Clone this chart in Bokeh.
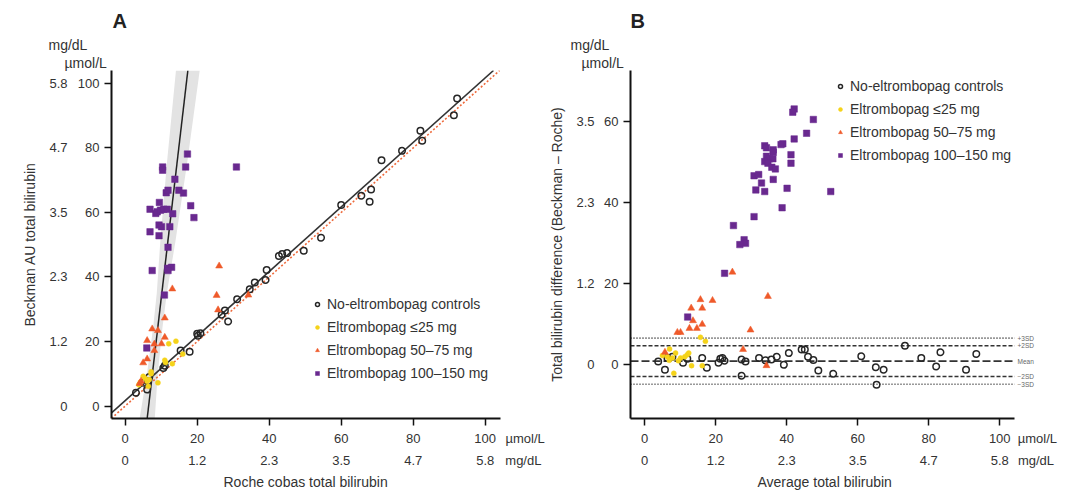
from bokeh.plotting import figure
from bokeh.layouts import row
from bokeh.models import (LinearAxis, FixedTicker, Legend, LegendItem, Label,
                          Range1d, Title)
from bokeh.embed import file_html
from bokeh.resources import INLINE

FONT = "Liberation Sans"
TXT = "#333333"

# ---------------- data ----------------
tick_umol = [0, 20, 40, 60, 80, 100]
tick_mgdl = ["0", "1.2", "2.3", "3.5", "4.7", "5.8"]
tick_umol_by = [0, 20, 40, 60]
tick_mgdl_by = ["0", "1.2", "2.3", "3.5"]

series_names = ["No-eltrombopag controls", "Eltrombopag \u226425 mg",
                "Eltrombopag 50\u201375 mg", "Eltrombopag 100\u2013150 mg"]

# Panel A : Roche cobas (x) vs Beckman AU (y), umol/L
ctrl_roche = [92.2, 91.3, 82.0, 82.5, 76.9, 71.2, 68.3, 65.6, 67.9, 60.0, 54.4, 49.6,
              45.0, 43.6, 42.7, 39.3, 39.0, 36.0, 34.6, 31.1, 28.6, 27.7, 26.8, 20.9,
              20.2, 20.0, 15.4, 17.9, 10.6, 11.0, 6.7, 5.2, 6.3, 6.1, 3.0]
ctrl_beckman = [95.3, 90.1, 85.3, 82.2, 79.1, 76.2, 67.1, 65.2, 63.3, 62.3, 52.2, 48.1,
                47.4, 47.1, 46.5, 42.2, 39.1, 38.3, 36.2, 33.1, 26.2, 29.6, 28.3, 22.6,
                21.8, 22.4, 17.2, 16.8, 11.8, 12.5, 9.0, 7.2, 7.7, 5.1, 4.1]

low_roche = [12.1, 14.1, 11.0, 11.2, 13.1, 16.0, 7.2, 5.0, 6.7, 6.1, 9.1, 3.8, 6.4, 7.2, 4.2, 5.5]
low_beckman = [19.3, 20.1, 14.2, 13.5, 13.1, 16.1, 10.0, 9.2, 8.2, 7.7, 7.2, 6.6, 6.1, 10.6, 7.4, 8.6]

mid_roche = [26.1, 25.4, 25.8, 13.1, 11.0, 7.5, 9.1, 6.1, 8.1, 10.1, 11.0, 8.1, 6.1, 5.0, 4.0, 4.4, 34.2]
mid_beckman = [43.4, 34.3, 29.8, 36.3, 27.3, 23.9, 23.4, 20.3, 19.2, 19.3, 21.3, 17.2, 14.6, 13.4, 7.0, 7.7, 34.4]

high_roche = [17.3, 10.4, 10.4, 16.8, 30.9, 13.8, 11.4, 11.9, 14.9, 16.2, 18.2, 9.5, 6.9, 8.5,
              8.9, 9.8, 10.7, 11.7, 13.2, 19.1, 9.4, 10.1, 12.4, 6.9, 9.4, 11.9, 7.5, 11.8,
              12.9, 11.9, 10.9, 6.0]
high_beckman = [78.1, 74.1, 73.1, 74.1, 74.1, 70.3, 66.1, 66.9, 66.9, 66.0, 62.1, 63.1, 61.0, 59.7,
                60.2, 60.7, 61.0, 61.0, 59.6, 58.4, 56.1, 55.6, 55.6, 54.0, 52.8, 49.2, 42.0, 42.7,
                43.0, 42.0, 34.4, 18.0]

# regression fits (umol/L)
ctrl_fit = {"slope": 1.0, "intercept": 1.7}
eltro_fit = {"slope": 9.55, "intercept": -62.2}
ci_y = [-3.86, 10, 24, 35, 51, 75, 104]
ci_half = [2.1, 1.5, 1.3, 1.4, 2.1, 2.8, 3.3]

# Panel B : Bland-Altman, average (x) vs difference Beckman - Roche (y), umol/L
ctrl_avg = [3.8, 5.7, 6.4, 7.8, 10.8, 16.2, 17.5, 20.8, 21.3, 21.9, 27.3, 27.3, 28.4, 32.2,
            34.0, 35.7, 37.2, 39.2, 40.6, 44.2, 45.1, 46.0, 47.5, 48.9, 53.1, 61.0, 65.1,
            67.3, 65.3, 73.3, 77.9, 82.1, 83.3, 90.5, 93.4, 12.0, 22.5]
ctrl_diff = [0.8, -1.2, 1.7, 2.0, 0.5, 1.7, -0.7, 0.5, 1.5, 1.7, -2.7, 1.3, 0.8, 1.7,
             1.1, 1.3, 2.0, 0.0, 2.9, 3.8, 3.8, 2.0, 1.2, -1.4, -2.2, 2.1, -0.6,
             -1.2, -4.9, 4.7, 1.7, -0.4, 3.1, -1.2, 2.7, 1.5, 1.0]

low_avg = [15.7, 17.1, 7.0, 5.0, 6.4, 6.9, 8.7, 7.8, 10.1, 11.3, 12.0, 12.4, 13.2, 16.2, 8.2, 9.5]
low_diff = [6.8, 5.8, 3.9, 2.3, 2.0, 1.1, 2.9, 1.7, 1.7, 2.0, 2.5, 2.9, -0.2, -0.2, -2.1, 1.0]

mid_avg = [24.7, 34.7, 15.7, 19.1, 13.1, 16.2, 13.6, 16.2, 12.6, 14.7, 9.2, 10.1, 29.8, 27.7, 34.3, 5.7]
mid_diff = [22.9, 16.9, 16.1, 15.9, 14.0, 14.0, 10.9, 10.0, 9.0, 9.0, 8.0, 8.0, 8.6, 3.8, -0.2, 3.1]

high_avg = [42.1, 41.7, 47.5, 45.6, 42.1, 38.9, 38.4, 33.8, 34.3, 36.2, 36.2, 41.2, 34.3, 35.2,
            36.1, 33.8, 34.7, 41.2, 35.8, 36.8, 30.8, 32.1, 32.9, 36.2, 31.3, 33.8, 40.1, 52.4,
            38.7, 30.8, 25.0, 28.0, 28.4, 26.8, 22.5, 12.1]
high_diff = [63.2, 62.4, 60.6, 57.2, 55.8, 54.6, 54.4, 54.1, 53.6, 53.1, 52.5, 51.9, 51.5, 50.9,
             50.9, 50.2, 49.8, 49.8, 48.8, 48.4, 46.7, 47.0, 44.9, 45.8, 43.2, 42.8, 43.6, 42.8,
             38.8, 36.6, 34.4, 30.9, 30.0, 29.7, 22.6, 11.8]

ba_mean = 0.9
ba_sd = 1.9
ba_lines = [("+3SD", 3, ":"), ("+2SD", 2, "-"), ("Mean", 0, "m"), ("\u22122SD", -2, "-"), ("\u22123SD", -3, ":")]

# ---------------- layout constants ----------------
C_CTRL = "#262626"
C_LOW = "#f5d31a"
C_MID = "#ef5a2a"
C_HIGH = "#69298f"

A_XB = (-3.8, 104.2)      # drawn x-axis extent, panel A
A_XR = (-3.8, 115.36)     # frame x-range (room for unit text)
A_YR = (-3.86, 104.0)
B_XB = (-4.0, 104.2)
B_XR = (-4.0, 118.8)
B_YR = (-13.26, 72.7)
A_UNIT_X = (111.1, 110.6)  # tick slots for "umol/L" / "mg/dL" row labels
B_UNIT_X = (110.6, 110.2)


def style_axis(ax, size="13px"):
    ax.minor_tick_line_color = None
    ax.major_tick_in = 0
    ax.major_label_text_font = FONT
    ax.major_label_text_font_size = size
    ax.major_label_text_color = TXT
    ax.axis_label_text_font = FONT
    ax.axis_label_text_font_size = "14px"
    ax.axis_label_text_font_style = "normal"
    ax.axis_label_text_color = TXT


def label_axis(ticks, labels, standoff, title=None, title_standoff=10):
    ax = LinearAxis(ticker=FixedTicker(ticks=ticks),
                    major_label_overrides={t: l for t, l in zip(ticks, labels)})
    style_axis(ax)
    ax.axis_line_color = None
    ax.major_tick_line_color = None
    ax.major_tick_out = 0
    ax.major_label_standoff = standoff
    if title is not None:
        ax.axis_label = title
        ax.axis_label_standoff = title_standoff
    return ax


def build_axes(p, xbounds, xunit_pos, yticks, ylabels, xtitle, xtitle_offset, ytitle):
    p.outline_line_color = None
    p.xgrid.visible = False
    p.ygrid.visible = False
    # x: line + ticks only
    ax1 = p.xaxis[0]
    style_axis(ax1)
    ax1.ticker = FixedTicker(ticks=tick_umol)
    ax1.bounds = xbounds
    ax1.axis_line_width = 2
    ax1.axis_line_color = "#111111"
    ax1.major_tick_line_width = 1.5
    ax1.major_tick_line_color = "#111111"
    ax1.major_tick_out = 7
    ax1.major_label_standoff = 0
    ax1.major_label_text_color = None
    p.add_layout(label_axis(tick_umol + [xunit_pos[0]],
                            [str(t) for t in tick_umol] + ["\u00b5mol/L"], 5), "below")
    p.add_layout(label_axis(tick_umol + [xunit_pos[1]], tick_mgdl + ["mg/dL"], 4), "below")
    p.add_layout(Title(text=xtitle, align="left", offset=xtitle_offset, standoff=2,
                       text_font=FONT, text_font_size="14px", text_font_style="normal",
                       text_color=TXT), "below")
    # y: line + ticks + umol labels, then mg/dL labels with title
    ay = p.yaxis[0]
    style_axis(ay)
    ay.ticker = FixedTicker(ticks=yticks)
    ay.axis_line_width = 2
    ay.axis_line_color = "#111111"
    ay.major_tick_line_width = 1.5
    ay.major_tick_line_color = "#111111"
    ay.major_tick_out = 7
    ay.major_label_standoff = 5
    p.add_layout(label_axis(yticks, ylabels, 7, title=ytitle, title_standoff=8), "left")


def add_titles(p, letter, letter_offset, mg_offset, um_offset):
    # stacked outward from the frame
    p.add_layout(Title(text="\u00b5mol/L", align="left", offset=um_offset, standoff=0,
                       text_font=FONT, text_font_size="14px", text_font_style="normal",
                       text_color=TXT), "above")
    p.add_layout(Title(text="mg/dL", align="left", offset=mg_offset, standoff=0,
                       text_font=FONT, text_font_size="14px", text_font_style="normal",
                       text_color=TXT), "above")
    p.add_layout(Title(text=letter, align="left", offset=letter_offset, standoff=5,
                       text_font=FONT, text_font_size="20px", text_font_style="bold",
                       text_color="#222222"), "above")


def scatter_groups(p, xs_list, ys_list):
    r0 = p.scatter(xs_list[0], ys_list[0], marker="circle", size=6.5, fill_color=None,
                   line_color=C_CTRL, line_width=1.5)
    r1 = p.scatter(xs_list[1], ys_list[1], marker="circle", size=5, fill_color=C_LOW,
                   line_color=C_LOW, line_width=0.5)
    r2 = p.scatter(xs_list[2], ys_list[2], marker="triangle", size=7, fill_color=C_MID,
                   line_color=C_MID, line_width=0.5)
    r3 = p.scatter(xs_list[3], ys_list[3], marker="square", size=6.5, fill_color=C_HIGH,
                   line_color=C_HIGH, line_width=0.5)
    return [r0, r1, r2, r3]


def add_legend(p, rs, loc):
    lg = Legend(items=[LegendItem(label=n, renderers=[r]) for n, r in zip(series_names, rs)],
                location=loc, label_text_font=FONT, label_text_font_size="14px",
                label_text_color=TXT, glyph_width=10, glyph_height=16, label_height=16,
                spacing=7, label_standoff=5, padding=0, margin=0,
                border_line_color=None, background_fill_alpha=0)
    p.add_layout(lg)


# ---------------- Panel A ----------------
pa = figure(width=546, height=492, x_range=Range1d(*A_XR), y_range=Range1d(*A_YR),
            output_backend="svg", toolbar_location=None, title=None,
            min_border_left=111, min_border_right=6, min_border_top=70, min_border_bottom=73)
build_axes(pa, A_XB, A_UNIT_X, tick_umol, tick_mgdl,
           "Roche cobas total bilirubin", 112, "Beckman AU total bilirubin")
add_titles(pa, "A", 1, -63, -47)

ci_center = [(y - eltro_fit["intercept"]) / eltro_fit["slope"] for y in ci_y]
pa.harea(x1=[c - h for c, h in zip(ci_center, ci_half)],
         x2=[c + h for c, h in zip(ci_center, ci_half)], y=ci_y,
         fill_color="#e3e3e3", fill_alpha=1.0)

ident_x = [A_XB[0], A_YR[1]]
pa.line(ident_x, ident_x, line_color="#ee6a3c", line_width=1.6, line_dash="2 2")
ctrl_x = [A_XB[0], (A_YR[1] - ctrl_fit["intercept"]) / ctrl_fit["slope"]]
pa.line(ctrl_x, [ctrl_fit["slope"] * x + ctrl_fit["intercept"] for x in ctrl_x],
        line_color="#333333", line_width=1.6)
ey = [A_YR[0], A_YR[1]]
pa.line([(y - eltro_fit["intercept"]) / eltro_fit["slope"] for y in ey], ey,
        line_color="#222222", line_width=1.5)

rs_a = scatter_groups(pa, [ctrl_roche, low_roche, mid_roche, high_roche],
                      [ctrl_beckman, low_beckman, mid_beckman, high_beckman])
add_legend(pa, rs_a, (201, 37))

# ---------------- Panel B ----------------
pb = figure(width=525, height=492, x_range=Range1d(*B_XR), y_range=Range1d(*B_YR),
            output_backend="svg", toolbar_location=None, title=None,
            min_border_left=79, min_border_right=5, min_border_top=70, min_border_bottom=74)
build_axes(pb, B_XB, B_UNIT_X, tick_umol_by, tick_mgdl_by,
           "Average total bilirubin", 127, "Total bilirubin difference (Beckman \u2013 Roche)")
add_titles(pb, "B", 0, -60, -49)

for name, k, kind in ba_lines:
    yv = ba_mean + k * ba_sd
    dash = {":": "1 2", "-": "4 2", "m": "8 3"}[kind]
    pb.line(list(B_XB), [yv, yv], line_color="#333333",
            line_width=1.6 if kind != "m" else 1.8, line_dash=dash)
    pb.add_layout(Label(x=B_XB[1] + 0.8, y=yv, text=name, text_font=FONT, text_font_size="6.5px",
                        text_align="left", text_baseline="middle", text_color="#666666"))

rs_b = scatter_groups(pb, [ctrl_avg, low_avg, mid_avg, high_avg],
                      [ctrl_diff, low_diff, mid_diff, high_diff])
add_legend(pb, rs_b, (205, 255))

layout = row(pa, pb)
open("out.html", "w").write(file_html(layout, INLINE))
